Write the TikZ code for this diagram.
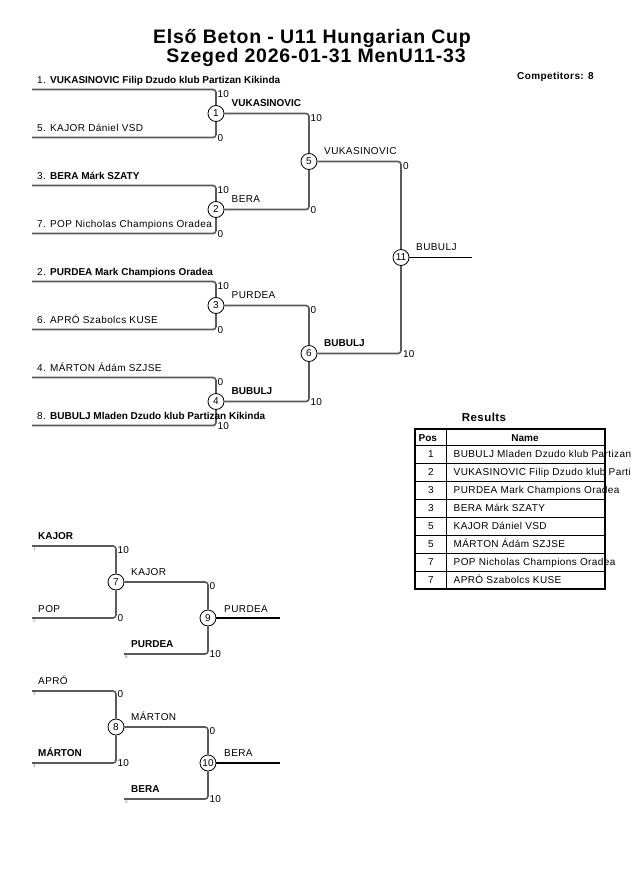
\documentclass[tikz,border=0pt]{standalone}
\usepackage{fontspec}
\setmainfont{Liberation Sans}
\newfontfamily\lsfont[LetterSpace=4]{Liberation Sans}
\newcommand{\bnm}[1]{{\normalfont\bfseries\fontsize{10}{12}\selectfont #1}}
\definecolor{lc}{RGB}{90,90,90}
\begin{document}
\begin{tikzpicture}[x=1pt,y=-1pt,
  br/.style={draw=lc, line width=1.6pt, rounded corners=3pt},
  fin/.style={draw=black, line width=1.1pt},
  mc/.style={circle, draw=black, fill=white, line width=0.8pt, minimum size=16pt, inner sep=0pt, font=\fontsize{10}{10}\selectfont},
  nm/.style={anchor=base west, inner sep=0pt, font=\lsfont\fontsize{10}{12}\selectfont},
  nb/.style={anchor=base west, inner sep=0pt, font=\bfseries\fontsize{10}{12}\selectfont},
  sc/.style={anchor=west, inner sep=0pt, font=\fontsize{10}{12}\selectfont},
  sd/.style={anchor=west, inner sep=0pt, text=gray, font=\fontsize{4.5}{5}\selectfont},
  tl/.style={anchor=base, inner sep=0pt, font=\lsfont\bfseries\fontsize{19.5}{22}\selectfont},
  tc/.style={anchor=base, inner sep=0pt, font=\lsfont\fontsize{10}{12}\selectfont},
  th/.style={anchor=base, inner sep=0pt, font=\bfseries\fontsize{10}{12}\selectfont}
]
\useasboundingbox (0,0) rectangle (630,891);

% title
\node[tl] (t1) at (312,43.3) {Első Beton - U11 Hungarian Cup};
\node[tl] (t2) at (316,62.5) {Szeged 2026-01-31 MenU11-33};
\node[anchor=base west, inner sep=0pt, font=\lsfont\bfseries\fontsize{10}{12}\selectfont] (comp) at (517,79) {Competitors: 8};

% ---------------- main bracket ----------------
\node[mc] (m1) at (216,113.5) {1};
\node[mc] (m2) at (216,209.5) {2};
\node[mc] (m3) at (216,305.5) {3};
\node[mc] (m4) at (216,401.5) {4};
\node[mc] (m5) at (309,161.5) {5};
\node[mc] (m6) at (309,353.5) {6};
\node[mc] (m11) at (401,257.5) {11};

\coordinate (a1t) at (32,89.5);  \coordinate (a1b) at (32,137.5);
\coordinate (a2t) at (32,185.5); \coordinate (a2b) at (32,233.5);
\coordinate (a3t) at (32,281.5); \coordinate (a3b) at (32,329.5);
\coordinate (a4t) at (32,377.5); \coordinate (a4b) at (32,425.5);
\coordinate (e11) at (472,257.5);

\draw[br] (a1t) -| (m1); \draw[br] (a1b) -| (m1);
\draw[br] (a2t) -| (m2); \draw[br] (a2b) -| (m2);
\draw[br] (a3t) -| (m3); \draw[br] (a3b) -| (m3);
\draw[br] (a4t) -| (m4); \draw[br] (a4b) -| (m4);
\draw[br] (m1) -| (m5); \draw[br] (m2) -| (m5);
\draw[br] (m3) -| (m6); \draw[br] (m4) -| (m6);
\draw[br] (m5) -| (m11); \draw[br] (m6) -| (m11);
\draw[fin] (m11) -- (e11);

% entry names
\node[nm] (n1) at (37,83.5) {1. \bnm{VUKASINOVIC Filip Dzudo klub Partizan Kikinda}};
\node[nm] (n5) at (37,131.5) {5. KAJOR Dániel VSD};
\node[nm] (n3) at (37,179.5) {3. \bnm{BERA Márk SZATY}};
\node[nm] (n7) at (37,227.5) {7. POP Nicholas Champions Oradea};
\node[nm] (n2) at (37,275.5) {2. \bnm{PURDEA Mark Champions Oradea}};
\node[nm] (n6) at (37,323.5) {6. APRÓ Szabolcs KUSE};
\node[nm] (n4) at (37,371.5) {4. MÁRTON Ádám SZJSE};
\node[nm] (n8) at (37,419.5) {8. \bnm{BUBULJ Mladen Dzudo klub Partizan Kikinda}};

% scores round 1
\node[sc] (s1t) at (217.5,94) {10};   \node[sc] (s1b) at (217.5,138) {0};
\node[sc] (s2t) at (217.5,190) {10};  \node[sc] (s2b) at (217.5,234) {0};
\node[sc] (s3t) at (217.5,286) {10};  \node[sc] (s3b) at (217.5,330) {0};
\node[sc] (s4t) at (217.5,382) {0};   \node[sc] (s4b) at (217.5,426) {10};
% scores round 2
\node[sc] (s5t) at (310.5,118) {10};  \node[sc] (s5b) at (310.5,210) {0};
\node[sc] (s6t) at (310.5,310) {0};   \node[sc] (s6b) at (310.5,402) {10};
\node[sc] (s11t) at (403,166) {0};    \node[sc] (s11b) at (403,354) {10};

% winner labels
\node[nb] (w1) at (231.5,106.5) {VUKASINOVIC};
\node[nm] (w2) at (231.5,202.5) {BERA};
\node[nm] (w3) at (231.5,298.5) {PURDEA};
\node[nb] (w4) at (231.5,394.5) {BUBULJ};
\node[nm] (w5) at (324,154.5) {VUKASINOVIC};
\node[nb] (w6) at (324,346.5) {BUBULJ};
\node[nm] (w11) at (416,250.5) {BUBULJ};

% ---------------- repechage ----------------
\node[mc] (m7) at (116,582) {7};
\node[mc] (m9) at (208,618) {9};
\node[mc] (m8) at (116,727) {8};
\node[mc] (m10) at (208,763) {10};

\coordinate (r1) at (32,546);  \coordinate (r2) at (32,618);
\coordinate (r6) at (124,654); \coordinate (e9) at (280,618);
\coordinate (r3) at (32,691);  \coordinate (r4) at (32,763);
\coordinate (r5) at (124,799); \coordinate (e10) at (280,763);

\draw[br] (r1) -| (m7); \draw[br] (r2) -| (m7);
\draw[br] (m7) -| (m9); \draw[br] (r6) -| (m9);
\draw[fin] (m9) -- (e9);
\draw[br] (r3) -| (m8); \draw[br] (r4) -| (m8);
\draw[br] (m8) -| (m10); \draw[br] (r5) -| (m10);
\draw[fin] (m10) -- (e10);

\node[nb] (k1) at (38,539.5) {KAJOR};
\node[nm] (k2) at (38,612.5) {POP};
\node[sd] (d1) at (33,549) {1};
\node[sd] (d2) at (33,621) {2};
\node[sc] (s7t) at (117.5,550.5) {10};
\node[sc] (s7b) at (117.5,618.5) {0};
\node[nm] (k7) at (131,575) {KAJOR};
\node[nb] (k6) at (131,647.5) {PURDEA};
\node[sd] (d6) at (125,657) {6};
\node[sc] (s9t) at (209.5,586.5) {0};
\node[sc] (s9b) at (209.5,654.5) {10};
\node[nm] (k9) at (224,612) {PURDEA};

\node[nm] (k3) at (38,684) {APRÓ};
\node[nb] (k4) at (38,756) {MÁRTON};
\node[sd] (d3) at (33,694) {3};
\node[sd] (d4) at (33,766) {4};
\node[sc] (s8t) at (117.5,694.5) {0};
\node[sc] (s8b) at (117.5,763) {10};
\node[nm] (k8) at (131,720) {MÁRTON};
\node[nb] (k5) at (131,792) {BERA};
\node[sd] (d5) at (125,802) {5};
\node[sc] (s10t) at (209.5,731) {0};
\node[sc] (s10b) at (209.5,799) {10};
\node[nm] (k10) at (224,756.5) {BERA};

% ---------------- results table ----------------
\node[anchor=base, inner sep=0pt, font=\lsfont\bfseries\fontsize{11.5}{13}\selectfont] (res) at (484,421) {Results};
\draw[line width=0.8pt] (415,445) -- (605,445);
\foreach \yy in {463,481,499,517,535,553,571} \draw[line width=0.8pt] (415,\yy) -- (605,\yy);
\draw[line width=0.8pt] (446,429) -- (446,589);
\draw[line width=1.6pt] (415,429) rectangle (605,589);
\node[anchor=base west, inner sep=0pt, font=\bfseries\fontsize{10}{12}\selectfont] (hp) at (418.5,441) {Pos};
\node[th] (hn) at (525,441) {Name};
\foreach \p/\nme [count=\i] in {1/BUBULJ Mladen Dzudo klub Partizan,2/VUKASINOVIC Filip Dzudo klub Parti,3/PURDEA Mark Champions Oradea,3/BERA Márk SZATY,5/KAJOR Dániel VSD,5/MÁRTON Ádám SZJSE,7/POP Nicholas Champions Oradea,7/APRÓ Szabolcs KUSE}{
  \node[tc] (rp\i) at (431,{445+18*\i-9+3.7}) {\p};
  \node[nm] (rn\i) at (453.5,{445+18*\i-9+3.7}) {\nme};
}
\end{tikzpicture}
\end{document}
